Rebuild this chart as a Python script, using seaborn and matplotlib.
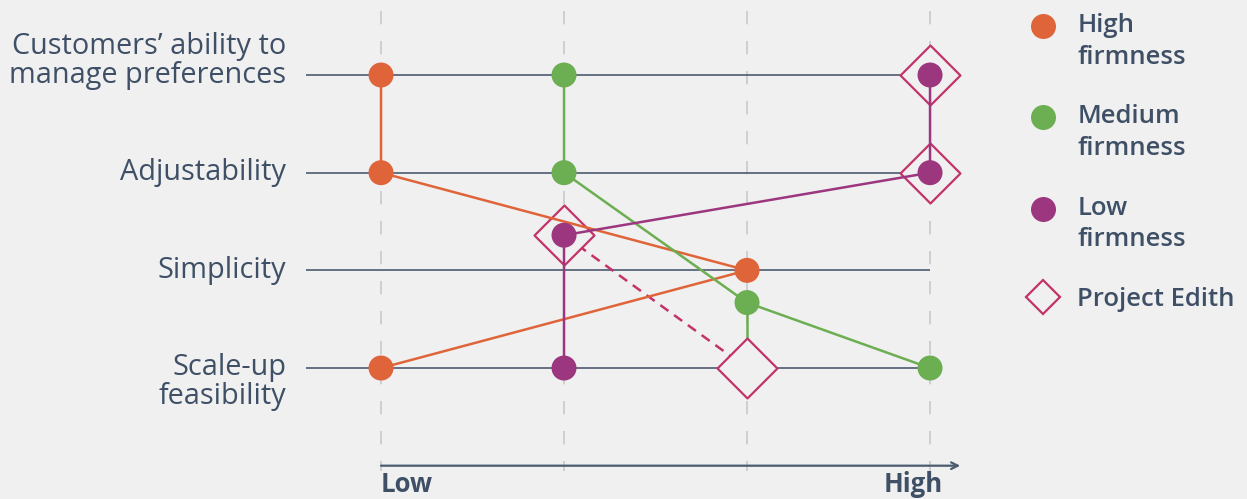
import numpy as np
import pandas as pd
import matplotlib.pyplot as plt
import seaborn as sns
from matplotlib.lines import Line2D
from matplotlib.legend_handler import HandlerLine2D

# Data
criteria = ["Customers’ ability to\nmanage preferences", "Adjustability",
            "Simplicity", "Scale-up\nfeasibility"]
label_shift = [-0.14, 0, 0, 0.14]
series = ["High firmness", "Medium firmness", "Low firmness"]
legend_labels = ["High\nfirmness", "Medium\nfirmness", "Low\nfirmness", "Project Edith"]

# x = position on Low..High scale (1..4), y = row (0..3, small nudges avoid overlaps)
high_x = [1, 1, 3, 1]
high_y = [0, 1, 2, 3]
medium_x = [2, 2, 3, 4]
medium_y = [0, 1, 2.33, 3]
low_x = [4, 4, 2, 2]
low_y = [0, 1, 1.64, 3]
edith_x = [4, 4, 2, 3]
edith_y = [0, 1, 1.64, 3]

# Colours
BG = "#f0f0f0"
TEXT = "#3e4f66"
GRID_H = "#4d5b70"
GRID_V = "#c6c9ce"
ORANGE = "#df6439"
GREEN = "#6cae52"
PURPLE = "#9c367e"
EDITH = "#c3336a"
palette = dict(zip(series, [ORANGE, GREEN, PURPLE]))

df = pd.DataFrame({
    "series": np.repeat(series, 4),
    "x": high_x + medium_x + low_x,
    "y": high_y + medium_y + low_y,
})
edith = pd.DataFrame({"x": edith_x, "y": edith_y})

sns.set_theme(style="white", rc={"axes.facecolor": BG, "figure.facecolor": BG})
plt.rcParams["font.family"] = ["Open Sans", "DejaVu Sans"]


class TopHandler(HandlerLine2D):
    # put the legend marker next to the first line of a two-line label
    def __init__(self, shift=0, **kw):
        super().__init__(**kw)
        self.shift = shift

    def create_artists(self, legend, orig_handle, xdescent, ydescent, width, height, fontsize, trans):
        arts = super().create_artists(legend, orig_handle, xdescent, ydescent, width, height, fontsize, trans)
        for a in arts:
            a.set_ydata(np.asarray(a.get_ydata()) + self.shift)
        return arts


fig = plt.figure(figsize=(12.47, 4.99), dpi=100)
ax = fig.add_axes([0, 0, 1, 1])

# guide lines
ax.vlines([1, 2, 3, 4], -0.66, 4.05, colors=GRID_V, linestyles=(0, (8, 10)), lw=1.2, zorder=0)
ax.hlines(range(len(criteria)), 0.59, 4, colors=GRID_H, lw=1.2, zorder=1)

# Project Edith
ax.plot(edith_x[2:], edith_y[2:], ls=(0, (4, 2.8)), color=EDITH, lw=1.8, zorder=2)
ax.plot([medium_x[2], edith_x[3]], [medium_y[2], edith_y[3]], color=GREEN, lw=1.8, zorder=2)
sns.scatterplot(data=edith, x="x", y="y", marker="D", s=930, color=BG,
                edgecolor=EDITH, linewidth=1.6, zorder=3, legend=False, ax=ax)

# series
sns.lineplot(data=df, x="x", y="y", hue="series", palette=palette, sort=False,
             estimator=None, lw=1.8, legend=False, zorder=4, ax=ax)
sns.scatterplot(data=df, x="x", y="y", hue="series", palette=palette, s=324,
                edgecolor="none", legend=False, zorder=5, ax=ax)

# row labels
for i, c in enumerate(criteria):
    ax.text(0.481, i + label_shift[i], c, ha="right", va="center", fontsize=20.8,
            color=TEXT, linespacing=1.0)

# bottom axis
ax.annotate("", xy=(4.165, 4.0), xytext=(1, 4.0),
            arrowprops=dict(arrowstyle="->", color=GRID_H, lw=1.6, shrinkA=0, shrinkB=0))
ax.text(1, 4.19, "Low", ha="left", va="center", fontsize=18.5, fontweight="bold", color=TEXT)
ax.text(4.07, 4.19, "High", ha="right", va="center", fontsize=18.5, fontweight="bold", color=TEXT)

# legend
handles = [Line2D([], [], ls="", marker="o", markersize=18, color=col, markeredgewidth=0)
           for col in [ORANGE, GREEN, PURPLE]]
handles.append(Line2D([], [], ls="", marker="D", markersize=17.5, markerfacecolor=BG,
                      markeredgecolor=EDITH, markeredgewidth=1.6))
hmap = {h: TopHandler(shift=11.5) for h in handles[:3]}
leg = ax.legend(handles, legend_labels, loc="upper left", bbox_to_anchor=(0.8244, 0.974),
                frameon=False, labelcolor=TEXT, handlelength=1.2, handletextpad=0.72,
                labelspacing=1.35, borderpad=0, borderaxespad=0, handler_map=hmap,
                prop={"weight": "semibold", "size": 18.5})
for t in leg.get_texts():
    t.set_linespacing(1.35)

ax.set_xlim(-1.082, 5.732)
ax.set_ylim(4.341, -0.768)
ax.axis("off")

fig.savefig("out.png", dpi=100, facecolor=BG)
